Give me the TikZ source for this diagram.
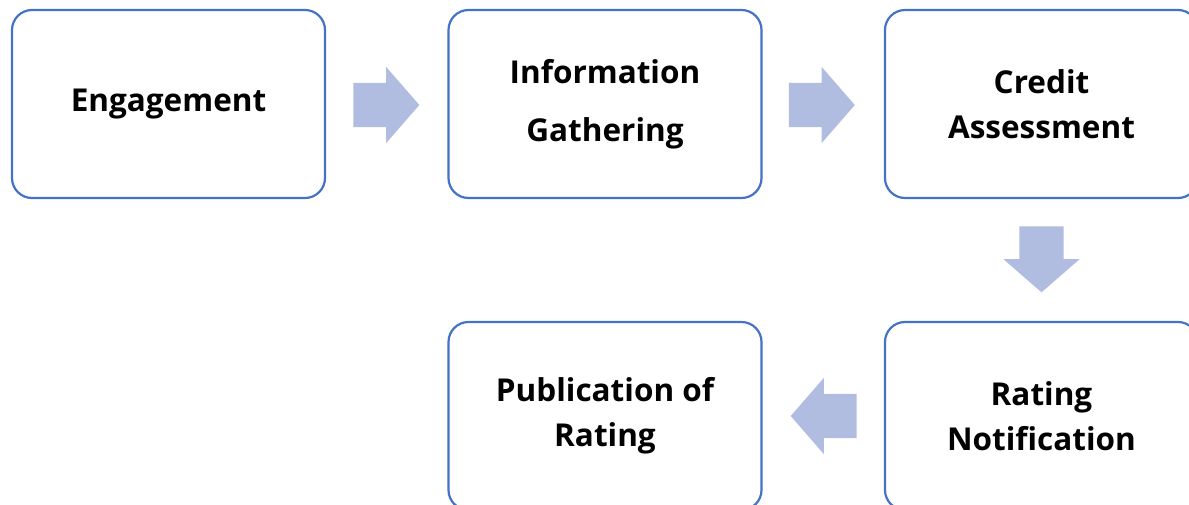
\documentclass[tikz,border=0pt]{standalone}
\usepackage{fontspec}
\setmainfont{Open Sans}
\usetikzlibrary{positioning,shapes.arrows,calc}
\definecolor{boxblue}{HTML}{4472C4}
\definecolor{arrowblue}{HTML}{B0BDE0}

\begin{document}
\begin{tikzpicture}[x=1pt,y=-1pt,node distance=312pt and 436.5pt,on grid,
    stage/.style={draw=boxblue,line width=2.2pt,rounded corners=20pt,
      minimum width=313pt,minimum height=188pt,align=center,
      font=\fontsize{31.5}{45}\selectfont\bfseries},
    flow/.style={single arrow,fill=arrowblue,draw=none,inner sep=0pt,
      inner ysep=22pt,minimum height=66pt,single arrow head extend=16pt,
      single arrow tip angle=98,anchor=tail}]
    \useasboundingbox (0,0) rectangle (1189,504);
    \clip (0,0) rectangle (1189,504);
    \node[stage] (eng) at (168.5,104) {Engagement};
    \node[stage] (info) [right = of eng] {Information\\[13pt]Gathering};
    \node[stage] (credit) [right = of info] {Credit\\Assessment};
    \node[stage] (notif) [below = of credit] {Rating\\Notification};
    \node[stage] (pub) [left = of notif] {Publication of\\Rating};
    \node[flow] (a1) at ($(eng.east)+(27,1)$) {};
    \node[flow] (a2) at ($(info.east)+(26,1)$) {};
    \node[flow,rotate=-90] (a3) at ($(credit.south)+(0,27)$) {};
    \node[flow,rotate=180] (a4) at ($(notif.west)+(-27,0)$) {};
\end{tikzpicture}
\end{document}
